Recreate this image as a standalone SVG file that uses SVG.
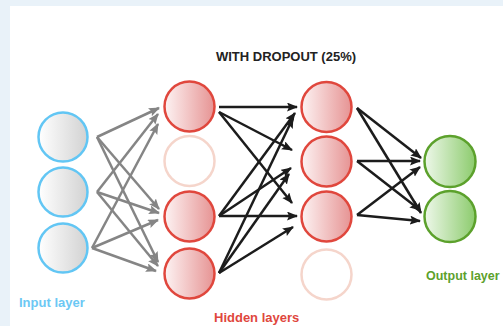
<svg xmlns="http://www.w3.org/2000/svg" width="503" height="326" viewBox="0 0 503 326">
<style>
.node{stroke-width:2.5}
.inp{fill:url(#gIn);stroke:#62c6f4}
.hid{fill:url(#gHid);stroke:#e0473d}
.drop{fill:#ffffff;stroke:#f5d5cb}
.out{fill:url(#gOut);stroke:#5ca12c}
.ga{stroke:#858585;stroke-width:2.5;fill:none;marker-end:url(#mg)}
.ba{stroke:#1c1c1c;stroke-width:2.5;fill:none;marker-end:url(#mb)}
.lbl{font-family:"Liberation Sans",Arial,sans-serif;font-weight:bold;font-size:13px}
</style>
<defs>
<linearGradient id="gIn" x1="0" y1="0" x2="1" y2="0">
<stop offset="0" stop-color="#ffffff"/><stop offset="1" stop-color="#d2d2d2"/>
</linearGradient>
<linearGradient id="gHid" x1="0" y1="0" x2="1" y2="0">
<stop offset="0" stop-color="#fdf3f3"/><stop offset="1" stop-color="#e69393"/>
</linearGradient>
<linearGradient id="gOut" x1="0" y1="0" x2="1" y2="0">
<stop offset="0" stop-color="#eef8ea"/><stop offset="1" stop-color="#8ccb6d"/>
</linearGradient>
<marker id="mg" markerUnits="userSpaceOnUse" markerWidth="12" markerHeight="10" refX="10" refY="4.5" orient="auto">
<path d="M0,0 L11,4.5 L0,9 L2,4.5 z" fill="#858585"/>
</marker>
<marker id="mb" markerUnits="userSpaceOnUse" markerWidth="12" markerHeight="10" refX="10" refY="4.5" orient="auto">
<path d="M0,0 L11,4.5 L0,9 L2,4.5 z" fill="#1c1c1c"/>
</marker>
</defs>
<rect x="0" y="0" width="503" height="326" fill="#e9f2f9"/>
<rect x="10" y="6" width="493" height="320" fill="#ffffff"/>
<text x="286" y="61" text-anchor="middle" font-family="Liberation Sans,Arial,sans-serif" font-weight="bold" font-size="13" fill="#222222">WITH DROPOUT (25%)</text>
<g id="connectors">
<line class="ga" x1="97" y1="137" x2="159" y2="108"/>
<line class="ga" x1="97" y1="137" x2="159" y2="209"/>
<line class="ga" x1="97" y1="137" x2="158" y2="262"/>
<line class="ga" x1="97" y1="192" x2="158" y2="114"/>
<line class="ga" x1="97" y1="192" x2="159" y2="213"/>
<line class="ga" x1="97" y1="192" x2="158" y2="266"/>
<line class="ga" x1="92" y1="248" x2="158" y2="124"/>
<line class="ga" x1="92" y1="248" x2="158" y2="220"/>
<line class="ga" x1="92" y1="248" x2="156" y2="271"/>
<line class="ba" x1="219" y1="107" x2="297" y2="107"/>
<line class="ba" x1="219" y1="112" x2="292" y2="150"/>
<line class="ba" x1="219" y1="112" x2="292" y2="203"/>
<line class="ba" x1="219" y1="216" x2="295" y2="113"/>
<line class="ba" x1="219" y1="216" x2="291" y2="168"/>
<line class="ba" x1="219" y1="216" x2="297" y2="216"/>
<line class="ba" x1="219" y1="273" x2="293" y2="118"/>
<line class="ba" x1="219" y1="273" x2="289" y2="174"/>
<line class="ba" x1="219" y1="273" x2="293" y2="227"/>
<line class="ba" x1="357" y1="108" x2="421" y2="158"/>
<line class="ba" x1="357" y1="108" x2="421" y2="213"/>
<line class="ba" x1="357" y1="161" x2="420" y2="161"/>
<line class="ba" x1="357" y1="161" x2="420" y2="210"/>
<line class="ba" x1="357" y1="215" x2="420" y2="167"/>
<line class="ba" x1="357" y1="215" x2="420" y2="221"/>
</g>
<g id="input1"><circle class="node inp" cx="63" cy="137" r="24.5"/></g>
<g id="input2"><circle class="node inp" cx="63" cy="192" r="24.5"/></g>
<g id="input3"><circle class="node inp" cx="63" cy="248" r="24.5"/></g>
<g id="hidden1a"><circle class="node hid" cx="189.5" cy="106.5" r="25"/></g>
<g id="hidden1b"><circle class="node drop" cx="189.5" cy="161" r="25"/></g>
<g id="hidden1c"><circle class="node hid" cx="189.5" cy="216.5" r="25"/></g>
<g id="hidden1d"><circle class="node hid" cx="189.5" cy="273.5" r="25"/></g>
<g id="hidden2a"><circle class="node hid" cx="326.5" cy="107" r="25"/></g>
<g id="hidden2b"><circle class="node hid" cx="326.5" cy="161.5" r="25"/></g>
<g id="hidden2c"><circle class="node hid" cx="326.5" cy="216.5" r="25"/></g>
<g id="hidden2d"><circle class="node drop" cx="326.5" cy="274.5" r="25"/></g>
<g id="output1"><circle class="node out" cx="450" cy="161.5" r="25.5"/></g>
<g id="output2"><circle class="node out" cx="450" cy="216.5" r="25.5"/></g>
<text class="lbl" x="19" y="307" fill="#6cc8f4">Input layer</text>
<text class="lbl" x="214" y="322" fill="#e0473d">Hidden layers</text>
<text class="lbl" x="426" y="280" fill="#5ca12c" font-size="12.5" style="font-size:12.5px">Output layer</text>
</svg>
